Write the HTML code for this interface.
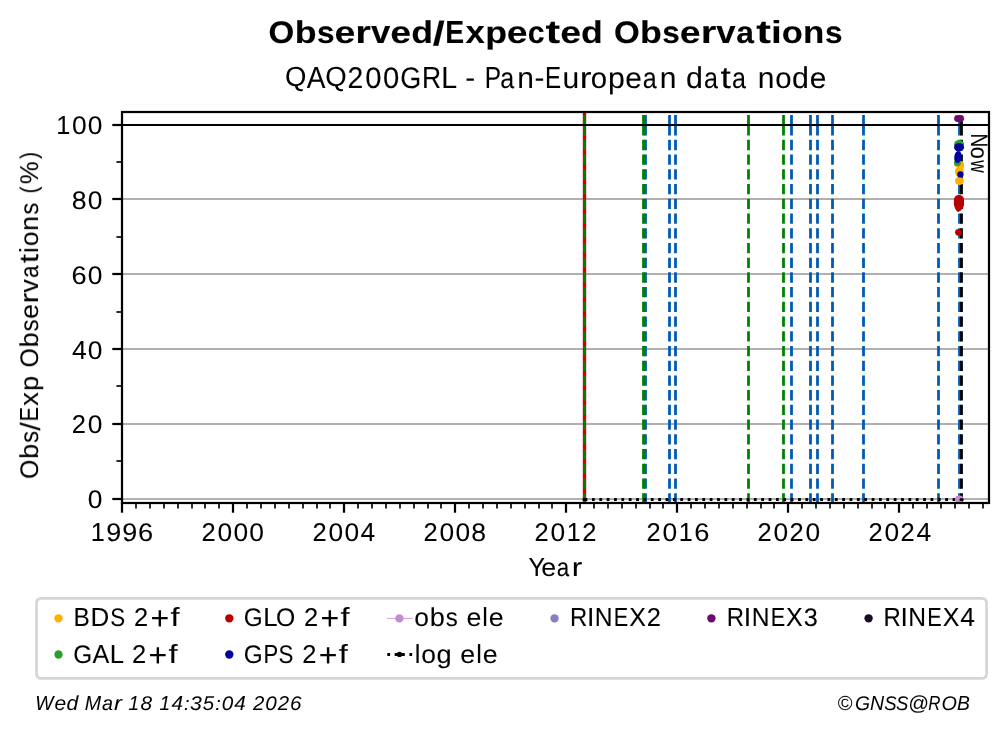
<!DOCTYPE html>
<html><head><meta charset="utf-8"><title>Observed/Expected Observations</title>
<style>html,body{margin:0;padding:0;background:#fff;}body{width:1008px;height:734px;overflow:hidden;font-family:"Liberation Sans",sans-serif;}svg{display:block;}text{font-family:"Liberation Sans",sans-serif;fill:#000;}.ns{vector-effect:non-scaling-stroke;}</style></head><body>
<svg width="1008" height="734" viewBox="0 0 1008 734">
<rect x="0" y="0" width="1008" height="734" fill="#ffffff"/>
<defs><clipPath id="ax"><rect x="122.00" y="112.00" width="867.00" height="391.00"/></clipPath></defs>
<g stroke="#b0b0b0" stroke-width="2.2" clip-path="url(#ax)">
<line x1="122.00" x2="989.00" y1="499.00" y2="499.00"/>
<line x1="122.00" x2="989.00" y1="424.00" y2="424.00"/>
<line x1="122.00" x2="989.00" y1="349.00" y2="349.00"/>
<line x1="122.00" x2="989.00" y1="274.00" y2="274.00"/>
<line x1="122.00" x2="989.00" y1="199.00" y2="199.00"/>
<line x1="122.00" x2="989.00" y1="125.00" y2="125.00"/>
</g>
<g clip-path="url(#ax)">
<line x1="645.50" x2="645.50" y1="115.00" y2="125.20" stroke="#005ab5" stroke-width="2.78"/>
<line x1="645.50" x2="645.50" y1="125.15" y2="505.00" stroke="#005ab5" stroke-width="2.78" stroke-dasharray="10.28 4.44"/>
<line x1="669.50" x2="669.50" y1="115.00" y2="125.20" stroke="#005ab5" stroke-width="2.78"/>
<line x1="669.50" x2="669.50" y1="125.15" y2="505.00" stroke="#005ab5" stroke-width="2.78" stroke-dasharray="10.28 4.44"/>
<line x1="675.50" x2="675.50" y1="115.00" y2="125.20" stroke="#005ab5" stroke-width="2.78"/>
<line x1="675.50" x2="675.50" y1="125.15" y2="505.00" stroke="#005ab5" stroke-width="2.78" stroke-dasharray="10.28 4.44"/>
<line x1="791.50" x2="791.50" y1="115.00" y2="125.20" stroke="#005ab5" stroke-width="2.78"/>
<line x1="791.50" x2="791.50" y1="125.15" y2="505.00" stroke="#005ab5" stroke-width="2.78" stroke-dasharray="10.28 4.44"/>
<line x1="810.50" x2="810.50" y1="115.00" y2="125.20" stroke="#005ab5" stroke-width="2.78"/>
<line x1="810.50" x2="810.50" y1="125.15" y2="505.00" stroke="#005ab5" stroke-width="2.78" stroke-dasharray="10.28 4.44"/>
<line x1="817.50" x2="817.50" y1="115.00" y2="125.20" stroke="#005ab5" stroke-width="2.78"/>
<line x1="817.50" x2="817.50" y1="125.15" y2="505.00" stroke="#005ab5" stroke-width="2.78" stroke-dasharray="10.28 4.44"/>
<line x1="832.50" x2="832.50" y1="115.00" y2="125.20" stroke="#005ab5" stroke-width="2.78"/>
<line x1="832.50" x2="832.50" y1="125.15" y2="505.00" stroke="#005ab5" stroke-width="2.78" stroke-dasharray="10.28 4.44"/>
<line x1="863.50" x2="863.50" y1="115.00" y2="125.20" stroke="#005ab5" stroke-width="2.78"/>
<line x1="863.50" x2="863.50" y1="125.15" y2="505.00" stroke="#005ab5" stroke-width="2.78" stroke-dasharray="10.28 4.44"/>
<line x1="938.50" x2="938.50" y1="115.00" y2="125.20" stroke="#005ab5" stroke-width="2.78"/>
<line x1="938.50" x2="938.50" y1="125.15" y2="505.00" stroke="#005ab5" stroke-width="2.78" stroke-dasharray="10.28 4.44"/>
<line x1="959.50" x2="959.50" y1="117.50" y2="125.20" stroke="#005ab5" stroke-width="2.78"/>
<line x1="959.50" x2="959.50" y1="125.15" y2="505.00" stroke="#005ab5" stroke-width="2.78" stroke-dasharray="10.28 4.44"/>
<line x1="584.5" x2="584.5" y1="112.00" y2="503.00" stroke="#cc0000" stroke-width="3.40"/>
<line x1="584.50" x2="584.50" y1="115.00" y2="125.20" stroke="#008000" stroke-width="2.78"/>
<line x1="584.50" x2="584.50" y1="125.15" y2="505.00" stroke="#008000" stroke-width="2.78" stroke-dasharray="10.28 4.44"/>
<line x1="643.50" x2="643.50" y1="115.00" y2="125.20" stroke="#008000" stroke-width="2.78"/>
<line x1="643.50" x2="643.50" y1="125.15" y2="505.00" stroke="#008000" stroke-width="2.78" stroke-dasharray="10.28 4.44"/>
<line x1="748.50" x2="748.50" y1="115.00" y2="125.20" stroke="#008000" stroke-width="2.78"/>
<line x1="748.50" x2="748.50" y1="125.15" y2="505.00" stroke="#008000" stroke-width="2.78" stroke-dasharray="10.28 4.44"/>
<line x1="783.50" x2="783.50" y1="115.00" y2="125.20" stroke="#008000" stroke-width="2.78"/>
<line x1="783.50" x2="783.50" y1="125.15" y2="505.00" stroke="#008000" stroke-width="2.78" stroke-dasharray="10.28 4.44"/>
<line x1="961.50" x2="961.50" y1="117.50" y2="125.20" stroke="#000000" stroke-width="2.78"/>
<line x1="961.50" x2="961.50" y1="125.15" y2="505.00" stroke="#000000" stroke-width="2.78" stroke-dasharray="10.28 4.44"/>
</g>
<line x1="122.00" x2="989.00" y1="125.00" y2="125.00" stroke="#000" stroke-width="2.2"/>
<g clip-path="url(#ax)">
<line x1="584.6" x2="961.6" y1="499.50" y2="499.50" stroke="#000" stroke-width="2.78" stroke-dasharray="2.78 4.58"/>
<ellipse cx="584.6" cy="499.50" rx="2.25" ry="1.6" fill="#000"/>
<ellipse cx="959.2" cy="499.00" rx="4.3" ry="3.6" fill="#c58bcf"/>
<ellipse cx="961.6" cy="499.50" rx="2.25" ry="1.6" fill="#000"/>
</g>
<g>
<rect x="954.1" y="114.95" width="9.95" height="6.95" rx="3.6" ry="3.47" fill="#6a0d6e"/>
<ellipse cx="957.5" cy="163.6" rx="3.5" ry="3.4" fill="#ffb000"/>
<ellipse cx="960.85" cy="165.2" rx="3.2" ry="4.3" fill="#ffb000"/>
<ellipse cx="959.4" cy="171.6" rx="4.4" ry="5.6" fill="#ffb000"/>
<ellipse cx="959.4" cy="180.9" rx="4.4" ry="4.1" fill="#ffb000"/>
<ellipse cx="959.05" cy="144.45" rx="5.0" ry="4.4" fill="#2ca02c"/>
<ellipse cx="957.45" cy="162.7" rx="3.45" ry="3.5" fill="#2ca02c"/>
<path d="M953.9,200 A5.07,5.2 0 0 1 964.05,200 L964.05,204.5 C964.05,207 962,210.3 958.4,212.1 C956.4,211.5 954.5,208 953.9,204.5 Z" fill="#b90000"/>
<circle cx="958.45" cy="232.3" r="3.35" fill="#b90000"/>
<ellipse cx="959.05" cy="147.3" rx="5.0" ry="4.3" fill="#00009c"/>
<ellipse cx="957.95" cy="157.0" rx="3.7" ry="6.1" fill="#00009c" transform="rotate(8 957.95 157)"/>
<circle cx="960.4" cy="174.4" r="3.15" fill="#00009c"/>
</g>
<rect x="122.00" y="112.00" width="867.00" height="391.00" fill="none" stroke="#000" stroke-width="2.22"/>
<g stroke="#000" stroke-width="2.22">
<line x1="112.28" x2="122.00" y1="499.00" y2="499.00"/>
<line x1="112.28" x2="122.00" y1="424.00" y2="424.00"/>
<line x1="112.28" x2="122.00" y1="349.00" y2="349.00"/>
<line x1="112.28" x2="122.00" y1="274.00" y2="274.00"/>
<line x1="112.28" x2="122.00" y1="199.00" y2="199.00"/>
<line x1="112.28" x2="122.00" y1="125.00" y2="125.00"/>
</g><g stroke="#000" stroke-width="1.67">
<line x1="116.44" x2="122.00" y1="461.00" y2="461.00"/>
<line x1="116.44" x2="122.00" y1="386.00" y2="386.00"/>
<line x1="116.44" x2="122.00" y1="312.00" y2="312.00"/>
<line x1="116.44" x2="122.00" y1="237.00" y2="237.00"/>
<line x1="116.44" x2="122.00" y1="162.00" y2="162.00"/>
</g><g stroke="#000" stroke-width="2.22">
<line x1="122.00" x2="122.00" y1="503.00" y2="512.72"/>
<line x1="233.00" x2="233.00" y1="503.00" y2="512.72"/>
<line x1="344.00" x2="344.00" y1="503.00" y2="512.72"/>
<line x1="455.00" x2="455.00" y1="503.00" y2="512.72"/>
<line x1="566.00" x2="566.00" y1="503.00" y2="512.72"/>
<line x1="677.00" x2="677.00" y1="503.00" y2="512.72"/>
<line x1="788.00" x2="788.00" y1="503.00" y2="512.72"/>
<line x1="899.00" x2="899.00" y1="503.00" y2="512.72"/>
</g><g stroke="#000" stroke-width="1.67">
<line x1="136.00" x2="136.00" y1="503.00" y2="508.56"/>
<line x1="150.00" x2="150.00" y1="503.00" y2="508.56"/>
<line x1="164.00" x2="164.00" y1="503.00" y2="508.56"/>
<line x1="178.00" x2="178.00" y1="503.00" y2="508.56"/>
<line x1="192.00" x2="192.00" y1="503.00" y2="508.56"/>
<line x1="205.00" x2="205.00" y1="503.00" y2="508.56"/>
<line x1="219.00" x2="219.00" y1="503.00" y2="508.56"/>
<line x1="247.00" x2="247.00" y1="503.00" y2="508.56"/>
<line x1="261.00" x2="261.00" y1="503.00" y2="508.56"/>
<line x1="275.00" x2="275.00" y1="503.00" y2="508.56"/>
<line x1="289.00" x2="289.00" y1="503.00" y2="508.56"/>
<line x1="303.00" x2="303.00" y1="503.00" y2="508.56"/>
<line x1="317.00" x2="317.00" y1="503.00" y2="508.56"/>
<line x1="330.00" x2="330.00" y1="503.00" y2="508.56"/>
<line x1="358.00" x2="358.00" y1="503.00" y2="508.56"/>
<line x1="372.00" x2="372.00" y1="503.00" y2="508.56"/>
<line x1="386.00" x2="386.00" y1="503.00" y2="508.56"/>
<line x1="400.00" x2="400.00" y1="503.00" y2="508.56"/>
<line x1="414.00" x2="414.00" y1="503.00" y2="508.56"/>
<line x1="428.00" x2="428.00" y1="503.00" y2="508.56"/>
<line x1="441.00" x2="441.00" y1="503.00" y2="508.56"/>
<line x1="469.00" x2="469.00" y1="503.00" y2="508.56"/>
<line x1="483.00" x2="483.00" y1="503.00" y2="508.56"/>
<line x1="497.00" x2="497.00" y1="503.00" y2="508.56"/>
<line x1="511.00" x2="511.00" y1="503.00" y2="508.56"/>
<line x1="525.00" x2="525.00" y1="503.00" y2="508.56"/>
<line x1="539.00" x2="539.00" y1="503.00" y2="508.56"/>
<line x1="552.00" x2="552.00" y1="503.00" y2="508.56"/>
<line x1="580.00" x2="580.00" y1="503.00" y2="508.56"/>
<line x1="594.00" x2="594.00" y1="503.00" y2="508.56"/>
<line x1="608.00" x2="608.00" y1="503.00" y2="508.56"/>
<line x1="622.00" x2="622.00" y1="503.00" y2="508.56"/>
<line x1="636.00" x2="636.00" y1="503.00" y2="508.56"/>
<line x1="650.00" x2="650.00" y1="503.00" y2="508.56"/>
<line x1="663.00" x2="663.00" y1="503.00" y2="508.56"/>
<line x1="691.00" x2="691.00" y1="503.00" y2="508.56"/>
<line x1="705.00" x2="705.00" y1="503.00" y2="508.56"/>
<line x1="719.00" x2="719.00" y1="503.00" y2="508.56"/>
<line x1="733.00" x2="733.00" y1="503.00" y2="508.56"/>
<line x1="747.00" x2="747.00" y1="503.00" y2="508.56"/>
<line x1="761.00" x2="761.00" y1="503.00" y2="508.56"/>
<line x1="774.00" x2="774.00" y1="503.00" y2="508.56"/>
<line x1="802.00" x2="802.00" y1="503.00" y2="508.56"/>
<line x1="816.00" x2="816.00" y1="503.00" y2="508.56"/>
<line x1="830.00" x2="830.00" y1="503.00" y2="508.56"/>
<line x1="844.00" x2="844.00" y1="503.00" y2="508.56"/>
<line x1="858.00" x2="858.00" y1="503.00" y2="508.56"/>
<line x1="872.00" x2="872.00" y1="503.00" y2="508.56"/>
<line x1="885.00" x2="885.00" y1="503.00" y2="508.56"/>
<line x1="913.00" x2="913.00" y1="503.00" y2="508.56"/>
<line x1="927.00" x2="927.00" y1="503.00" y2="508.56"/>
<line x1="941.00" x2="941.00" y1="503.00" y2="508.56"/>
<line x1="955.00" x2="955.00" y1="503.00" y2="508.56"/>
<line x1="969.00" x2="969.00" y1="503.00" y2="508.56"/>
<line x1="983.00" x2="983.00" y1="503.00" y2="508.56"/>
</g>
<path d="M41.50,598.40 L981.60,598.40 Q986.60,598.40 986.60,603.40 L986.60,673.40 Q986.60,678.40 981.60,678.40 L41.50,678.40 Q36.50,678.40 36.50,673.40 L36.50,603.40 Q36.50,598.40 41.50,598.40 Z" fill="#fff" stroke="#d6d6d6" stroke-width="2.78"/>
<g opacity="0.999" font-size="100" text-rendering="geometricPrecision">
<g font-weight="bold" stroke="#000" stroke-width="0.35">
<text class="ns" transform="translate(268.59 42.69) scale(0.3311 0.3107)">O</text>
<text class="ns" transform="translate(294.66 42.69) scale(0.3573 0.3129)">b</text>
<text class="ns" transform="translate(316.88 42.69) scale(0.3163 0.3097)">s</text>
<text class="ns" transform="translate(334.51 42.69) scale(0.3736 0.3102)">e</text>
<text class="ns" transform="translate(355.36 43.00) scale(0.4016 0.3154)">r</text>
<text class="ns" transform="translate(370.91 43.00) scale(0.3476 0.3220)">v</text>
<text class="ns" transform="translate(390.34 42.69) scale(0.3736 0.3102)">e</text>
<text class="ns" transform="translate(411.21 42.69) scale(0.3568 0.3129)">d</text>
<text class="ns" transform="translate(432.78 45.33) scale(0.4311 0.3356)">/</text>
<text class="ns" transform="translate(445.26 43.00) scale(0.2830 0.3198)">E</text>
<text class="ns" transform="translate(465.50 43.00) scale(0.3474 0.3220)">x</text>
<text class="ns" transform="translate(485.17 42.60) scale(0.3573 0.3075)">p</text>
<text class="ns" transform="translate(506.66 42.69) scale(0.3736 0.3102)">e</text>
<text class="ns" transform="translate(527.68 42.69) scale(0.3041 0.3102)">c</text>
<text class="ns" transform="translate(545.57 42.71) scale(0.4395 0.3253)">t</text>
<text class="ns" transform="translate(560.23 42.69) scale(0.3736 0.3102)">e</text>
<text class="ns" transform="translate(581.10 42.69) scale(0.3568 0.3129)">d</text>
<text class="ns" transform="translate(613.90 42.69) scale(0.3311 0.3107)">O</text>
<text class="ns" transform="translate(639.97 42.69) scale(0.3573 0.3129)">b</text>
<text class="ns" transform="translate(662.18 42.69) scale(0.3163 0.3097)">s</text>
<text class="ns" transform="translate(679.82 42.69) scale(0.3736 0.3102)">e</text>
<text class="ns" transform="translate(700.67 43.00) scale(0.4016 0.3154)">r</text>
<text class="ns" transform="translate(716.22 43.00) scale(0.3476 0.3220)">v</text>
<text class="ns" transform="translate(736.19 42.69) scale(0.3179 0.3102)">a</text>
<text class="ns" transform="translate(756.32 42.71) scale(0.4395 0.3253)">t</text>
<text class="ns" transform="translate(771.02 43.00) scale(0.3890 0.3172)">i</text>
<text class="ns" transform="translate(781.66 42.69) scale(0.3456 0.3102)">o</text>
<text class="ns" transform="translate(803.00 43.00) scale(0.3482 0.3154)">n</text>
<text class="ns" transform="translate(825.03 42.69) scale(0.3163 0.3097)">s</text>
</g>
<g stroke="#000" stroke-width="0.28">
<text class="ns" transform="translate(284.89 86.28) scale(0.2751 0.2762)">Q</text>
<text class="ns" transform="translate(306.64 88.00) scale(0.2801 0.3052)">A</text>
<text class="ns" transform="translate(325.22 86.28) scale(0.2751 0.2762)">Q</text>
<text class="ns" transform="translate(347.40 88.00) scale(0.2829 0.3009)">2</text>
<text class="ns" transform="translate(365.21 87.70) scale(0.2929 0.2966)">0</text>
<text class="ns" transform="translate(382.99 87.70) scale(0.2929 0.2966)">0</text>
<text class="ns" transform="translate(400.19 87.70) scale(0.2700 0.2966)">G</text>
<text class="ns" transform="translate(422.04 88.00) scale(0.2649 0.3052)">R</text>
<text class="ns" transform="translate(441.16 88.00) scale(0.2854 0.3052)">L</text>
<text class="ns" transform="translate(465.24 87.21) scale(0.2965 0.2749)">-</text>
<text class="ns" transform="translate(484.83 88.00) scale(0.2444 0.3052)">P</text>
<text class="ns" transform="translate(500.19 87.71) scale(0.2505 0.2920)">a</text>
<text class="ns" transform="translate(517.17 88.00) scale(0.2999 0.2974)">n</text>
<text class="ns" transform="translate(534.38 87.21) scale(0.2965 0.2749)">-</text>
<text class="ns" transform="translate(545.11 88.00) scale(0.2410 0.3052)">E</text>
<text class="ns" transform="translate(562.45 87.70) scale(0.2999 0.2974)">u</text>
<text class="ns" transform="translate(579.81 88.00) scale(0.3543 0.2974)">r</text>
<text class="ns" transform="translate(590.81 87.71) scale(0.2939 0.2920)">o</text>
<text class="ns" transform="translate(608.02 87.87) scale(0.3027 0.2949)">p</text>
<text class="ns" transform="translate(625.36 87.71) scale(0.2985 0.2920)">e</text>
<text class="ns" transform="translate(642.72 87.71) scale(0.2505 0.2920)">a</text>
<text class="ns" transform="translate(659.71 88.00) scale(0.2999 0.2974)">n</text>
<text class="ns" transform="translate(685.96 87.70) scale(0.3034 0.2993)">d</text>
<text class="ns" transform="translate(703.97 87.71) scale(0.2505 0.2920)">a</text>
<text class="ns" transform="translate(720.62 87.76) scale(0.3718 0.3058)">t</text>
<text class="ns" transform="translate(731.90 87.71) scale(0.2505 0.2920)">a</text>
<text class="ns" transform="translate(757.78 88.00) scale(0.2999 0.2974)">n</text>
<text class="ns" transform="translate(775.18 87.71) scale(0.2939 0.2920)">o</text>
<text class="ns" transform="translate(792.05 87.70) scale(0.3034 0.2993)">d</text>
<text class="ns" transform="translate(809.73 87.71) scale(0.2985 0.2920)">e</text>
</g>
<g stroke="#000" stroke-width="0.28">
<text class="ns" transform="translate(528.44 576.00) scale(0.2473 0.2616)">Y</text>
<text class="ns" transform="translate(541.18 575.74) scale(0.2686 0.2555)">e</text>
<text class="ns" transform="translate(556.87 575.74) scale(0.2233 0.2555)">a</text>
<text class="ns" transform="translate(571.71 576.00) scale(0.3187 0.2602)">r</text>
</g>
<g stroke="#000" stroke-width="0.28" transform="translate(38.00 479.20) rotate(-90)">
<text class="ns" transform="translate(0.21 -0.25) scale(0.2471 0.2542)">O</text>
<text class="ns" transform="translate(20.14 -0.26) scale(0.2716 0.2585)">b</text>
<text class="ns" transform="translate(36.23 -0.26) scale(0.2403 0.2559)">s</text>
<text class="ns" transform="translate(48.62 2.22) scale(0.3029 0.2789)">/</text>
<text class="ns" transform="translate(57.73 0.00) scale(0.2164 0.2616)">E</text>
<text class="ns" transform="translate(73.29 0.00) scale(0.2769 0.2652)">x</text>
<text class="ns" transform="translate(88.14 -0.30) scale(0.2716 0.2547)">p</text>
<text class="ns" transform="translate(111.71 -0.25) scale(0.2471 0.2542)">O</text>
<text class="ns" transform="translate(131.64 -0.26) scale(0.2716 0.2585)">b</text>
<text class="ns" transform="translate(147.73 -0.26) scale(0.2403 0.2559)">s</text>
<text class="ns" transform="translate(160.37 -0.26) scale(0.2686 0.2555)">e</text>
<text class="ns" transform="translate(175.65 0.00) scale(0.3187 0.2602)">r</text>
<text class="ns" transform="translate(186.54 0.00) scale(0.2692 0.2652)">v</text>
<text class="ns" transform="translate(201.19 -0.26) scale(0.2233 0.2555)">a</text>
<text class="ns" transform="translate(216.00 -0.21) scale(0.3320 0.2676)">t</text>
<text class="ns" transform="translate(226.33 0.00) scale(0.2528 0.2621)">i</text>
<text class="ns" transform="translate(232.89 -0.26) scale(0.2643 0.2555)">o</text>
<text class="ns" transform="translate(248.34 0.00) scale(0.2700 0.2602)">n</text>
<text class="ns" transform="translate(264.48 -0.26) scale(0.2403 0.2559)">s</text>
<text class="ns" transform="translate(285.70 -1.50) scale(0.2103 0.2414)">(</text>
<text class="ns" transform="translate(295.10 -0.15) scale(0.2564 0.2571)">%</text>
<text class="ns" transform="translate(320.30 -1.50) scale(0.2103 0.2414)">)</text>
</g>
<g font-style="italic" stroke="#000" stroke-width="0.18">
<text class="ns" transform="translate(35.22 710.00) scale(0.1923 0.2035)">W</text>
<text class="ns" transform="translate(54.45 709.80) scale(0.2102 0.2007)">e</text>
<text class="ns" transform="translate(66.45 709.80) scale(0.2105 0.2041)">d</text>
<text class="ns" transform="translate(84.82 710.00) scale(0.1963 0.2035)">M</text>
<text class="ns" transform="translate(102.11 709.80) scale(0.1975 0.2007)">a</text>
<text class="ns" transform="translate(114.06 710.00) scale(0.2377 0.2045)">r</text>
<text class="ns" transform="translate(128.48 710.00) scale(0.1902 0.2035)">1</text>
<text class="ns" transform="translate(140.49 709.80) scale(0.2077 0.1977)">8</text>
<text class="ns" transform="translate(159.48 710.00) scale(0.1902 0.2035)">1</text>
<text class="ns" transform="translate(171.61 710.00) scale(0.2077 0.2035)">4</text>
<text class="ns" transform="translate(183.99 710.00) scale(0.1994 0.1894)">:</text>
<text class="ns" transform="translate(189.94 709.80) scale(0.2116 0.1977)">3</text>
<text class="ns" transform="translate(202.69 709.80) scale(0.2037 0.2006)">5</text>
<text class="ns" transform="translate(215.36 710.00) scale(0.1994 0.1894)">:</text>
<text class="ns" transform="translate(221.83 709.80) scale(0.2070 0.1977)">0</text>
<text class="ns" transform="translate(234.36 710.00) scale(0.2077 0.2035)">4</text>
<text class="ns" transform="translate(252.95 710.00) scale(0.2030 0.2006)">2</text>
<text class="ns" transform="translate(265.20 709.80) scale(0.2070 0.1977)">0</text>
<text class="ns" transform="translate(277.70 710.00) scale(0.2030 0.2006)">2</text>
<text class="ns" transform="translate(289.96 709.80) scale(0.2058 0.1977)">6</text>
</g>
<g font-style="italic" stroke="#000" stroke-width="0.18">
<text class="ns" transform="translate(837.60 709.84) scale(0.1996 0.2054)">©</text>
<text class="ns" transform="translate(854.93 709.80) scale(0.1934 0.1977)">G</text>
<text class="ns" transform="translate(870.07 710.00) scale(0.1953 0.2035)">N</text>
<text class="ns" transform="translate(884.34 709.80) scale(0.1853 0.1977)">S</text>
<text class="ns" transform="translate(895.97 709.80) scale(0.1853 0.1977)">S</text>
<text class="ns" transform="translate(907.97 710.20) scale(0.2044 0.2028)">@</text>
<text class="ns" transform="translate(928.27 710.00) scale(0.1688 0.2035)">R</text>
<text class="ns" transform="translate(941.46 709.80) scale(0.1980 0.1977)">O</text>
<text class="ns" transform="translate(957.08 710.00) scale(0.1933 0.2035)">B</text>
</g>
<g stroke="#000" stroke-width="0.28">
<text class="ns" transform="translate(73.50 626.00) scale(0.2439 0.2616)">B</text>
<text class="ns" transform="translate(90.62 626.00) scale(0.2593 0.2616)">D</text>
<text class="ns" transform="translate(110.25 625.75) scale(0.2231 0.2542)">S</text>
<text class="ns" transform="translate(134.10 626.00) scale(0.2549 0.2579)">2</text>
<text class="ns" transform="translate(150.58 628.84) scale(0.3208 0.3265)">+</text>
<text class="ns" transform="translate(170.54 626.00) scale(0.3266 0.2624)">f</text>
</g>
<g stroke="#000" stroke-width="0.28">
<text class="ns" transform="translate(73.16 662.75) scale(0.2427 0.2542)">G</text>
<text class="ns" transform="translate(92.40 663.00) scale(0.2517 0.2616)">A</text>
<text class="ns" transform="translate(109.77 663.00) scale(0.2565 0.2616)">L</text>
<text class="ns" transform="translate(131.98 663.00) scale(0.2549 0.2579)">2</text>
<text class="ns" transform="translate(148.46 665.84) scale(0.3208 0.3265)">+</text>
<text class="ns" transform="translate(168.42 663.00) scale(0.3266 0.2624)">f</text>
</g>
<g stroke="#000" stroke-width="0.28">
<text class="ns" transform="translate(243.66 625.75) scale(0.2427 0.2542)">G</text>
<text class="ns" transform="translate(263.15 626.00) scale(0.2565 0.2616)">L</text>
<text class="ns" transform="translate(276.09 625.75) scale(0.2471 0.2542)">O</text>
<text class="ns" transform="translate(304.10 626.00) scale(0.2549 0.2579)">2</text>
<text class="ns" transform="translate(320.58 628.84) scale(0.3208 0.3265)">+</text>
<text class="ns" transform="translate(340.54 626.00) scale(0.3266 0.2624)">f</text>
</g>
<g stroke="#000" stroke-width="0.28">
<text class="ns" transform="translate(243.66 662.75) scale(0.2427 0.2542)">G</text>
<text class="ns" transform="translate(263.44 663.00) scale(0.2205 0.2616)">P</text>
<text class="ns" transform="translate(278.50 662.75) scale(0.2231 0.2542)">S</text>
<text class="ns" transform="translate(302.35 663.00) scale(0.2549 0.2579)">2</text>
<text class="ns" transform="translate(318.83 665.84) scale(0.3208 0.3265)">+</text>
<text class="ns" transform="translate(338.79 663.00) scale(0.3266 0.2624)">f</text>
</g>
<g stroke="#000" stroke-width="0.28">
<text class="ns" transform="translate(414.27 625.74) scale(0.2643 0.2555)">o</text>
<text class="ns" transform="translate(429.76 625.74) scale(0.2716 0.2585)">b</text>
<text class="ns" transform="translate(445.85 625.74) scale(0.2403 0.2559)">s</text>
<text class="ns" transform="translate(466.50 625.74) scale(0.2686 0.2555)">e</text>
<text class="ns" transform="translate(482.31 626.00) scale(0.2528 0.2621)">l</text>
<text class="ns" transform="translate(488.87 625.74) scale(0.2686 0.2555)">e</text>
</g>
<g stroke="#000" stroke-width="0.28">
<text class="ns" transform="translate(414.68 663.00) scale(0.2528 0.2621)">l</text>
<text class="ns" transform="translate(421.27 662.74) scale(0.2643 0.2555)">o</text>
<text class="ns" transform="translate(436.48 662.70) scale(0.2722 0.2550)">g</text>
<text class="ns" transform="translate(460.37 662.74) scale(0.2686 0.2555)">e</text>
<text class="ns" transform="translate(476.18 663.00) scale(0.2528 0.2621)">l</text>
<text class="ns" transform="translate(482.75 662.74) scale(0.2686 0.2555)">e</text>
</g>
<g stroke="#000" stroke-width="0.28">
<text class="ns" transform="translate(570.04 626.00) scale(0.2388 0.2616)">R</text>
<text class="ns" transform="translate(586.93 626.00) scale(0.2660 0.2616)">I</text>
<text class="ns" transform="translate(594.86 626.00) scale(0.2460 0.2616)">N</text>
<text class="ns" transform="translate(613.85 626.00) scale(0.2164 0.2616)">E</text>
<text class="ns" transform="translate(629.20 626.00) scale(0.2499 0.2616)">X</text>
<text class="ns" transform="translate(646.73 626.00) scale(0.2549 0.2579)">2</text>
</g>
<g stroke="#000" stroke-width="0.28">
<text class="ns" transform="translate(726.84 626.00) scale(0.2388 0.2616)">R</text>
<text class="ns" transform="translate(743.73 626.00) scale(0.2660 0.2616)">I</text>
<text class="ns" transform="translate(751.66 626.00) scale(0.2460 0.2616)">N</text>
<text class="ns" transform="translate(770.65 626.00) scale(0.2164 0.2616)">E</text>
<text class="ns" transform="translate(786.00 626.00) scale(0.2499 0.2616)">X</text>
<text class="ns" transform="translate(803.84 625.75) scale(0.2526 0.2542)">3</text>
</g>
<g stroke="#000" stroke-width="0.28">
<text class="ns" transform="translate(883.54 626.00) scale(0.2388 0.2616)">R</text>
<text class="ns" transform="translate(900.43 626.00) scale(0.2660 0.2616)">I</text>
<text class="ns" transform="translate(908.36 626.00) scale(0.2460 0.2616)">N</text>
<text class="ns" transform="translate(927.35 626.00) scale(0.2164 0.2616)">E</text>
<text class="ns" transform="translate(942.70 626.00) scale(0.2499 0.2616)">X</text>
<text class="ns" transform="translate(960.30 626.00) scale(0.2636 0.2616)">4</text>
</g>
<g stroke="#000" stroke-width="0.28">
<text class="ns" transform="translate(87.82 507.75) scale(0.2636 0.2542)">0</text>
</g>
<g stroke="#000" stroke-width="0.28">
<text class="ns" transform="translate(71.83 433.00) scale(0.2549 0.2579)">2</text>
<text class="ns" transform="translate(87.82 432.75) scale(0.2636 0.2542)">0</text>
</g>
<g stroke="#000" stroke-width="0.28">
<text class="ns" transform="translate(71.90 359.00) scale(0.2636 0.2616)">4</text>
<text class="ns" transform="translate(87.82 358.75) scale(0.2636 0.2542)">0</text>
</g>
<g stroke="#000" stroke-width="0.28">
<text class="ns" transform="translate(71.61 283.75) scale(0.2727 0.2542)">6</text>
<text class="ns" transform="translate(87.82 283.75) scale(0.2636 0.2542)">0</text>
</g>
<g stroke="#000" stroke-width="0.28">
<text class="ns" transform="translate(71.83 208.75) scale(0.2660 0.2542)">8</text>
<text class="ns" transform="translate(87.82 208.75) scale(0.2636 0.2542)">0</text>
</g>
<g stroke="#000" stroke-width="0.28">
<text class="ns" transform="translate(56.31 134.00) scale(0.2517 0.2616)">1</text>
<text class="ns" transform="translate(71.95 133.75) scale(0.2636 0.2542)">0</text>
<text class="ns" transform="translate(87.82 133.75) scale(0.2636 0.2542)">0</text>
</g>
<g stroke="#000" stroke-width="0.28">
<text class="ns" transform="translate(90.84 541.00) scale(0.2517 0.2616)">1</text>
<text class="ns" transform="translate(106.26 540.75) scale(0.2700 0.2542)">9</text>
<text class="ns" transform="translate(122.13 540.75) scale(0.2700 0.2542)">9</text>
<text class="ns" transform="translate(138.01 540.75) scale(0.2727 0.2542)">6</text>
</g>
<g stroke="#000" stroke-width="0.28">
<text class="ns" transform="translate(201.60 541.00) scale(0.2549 0.2579)">2</text>
<text class="ns" transform="translate(217.60 540.75) scale(0.2636 0.2542)">0</text>
<text class="ns" transform="translate(233.47 540.75) scale(0.2636 0.2542)">0</text>
<text class="ns" transform="translate(249.35 540.75) scale(0.2636 0.2542)">0</text>
</g>
<g stroke="#000" stroke-width="0.28">
<text class="ns" transform="translate(312.60 541.00) scale(0.2549 0.2579)">2</text>
<text class="ns" transform="translate(328.60 540.75) scale(0.2636 0.2542)">0</text>
<text class="ns" transform="translate(344.47 540.75) scale(0.2636 0.2542)">0</text>
<text class="ns" transform="translate(360.42 541.00) scale(0.2636 0.2616)">4</text>
</g>
<g stroke="#000" stroke-width="0.28">
<text class="ns" transform="translate(423.60 541.00) scale(0.2549 0.2579)">2</text>
<text class="ns" transform="translate(439.60 540.75) scale(0.2636 0.2542)">0</text>
<text class="ns" transform="translate(455.47 540.75) scale(0.2636 0.2542)">0</text>
<text class="ns" transform="translate(471.36 540.75) scale(0.2660 0.2542)">8</text>
</g>
<g stroke="#000" stroke-width="0.28">
<text class="ns" transform="translate(534.60 541.00) scale(0.2549 0.2579)">2</text>
<text class="ns" transform="translate(550.60 540.75) scale(0.2636 0.2542)">0</text>
<text class="ns" transform="translate(566.71 541.00) scale(0.2517 0.2616)">1</text>
<text class="ns" transform="translate(582.35 541.00) scale(0.2549 0.2579)">2</text>
</g>
<g stroke="#000" stroke-width="0.28">
<text class="ns" transform="translate(646.60 541.00) scale(0.2549 0.2579)">2</text>
<text class="ns" transform="translate(662.60 540.75) scale(0.2636 0.2542)">0</text>
<text class="ns" transform="translate(678.71 541.00) scale(0.2517 0.2616)">1</text>
<text class="ns" transform="translate(694.14 540.75) scale(0.2727 0.2542)">6</text>
</g>
<g stroke="#000" stroke-width="0.28">
<text class="ns" transform="translate(757.60 541.00) scale(0.2549 0.2579)">2</text>
<text class="ns" transform="translate(773.60 540.75) scale(0.2636 0.2542)">0</text>
<text class="ns" transform="translate(789.48 541.00) scale(0.2549 0.2579)">2</text>
<text class="ns" transform="translate(805.47 540.75) scale(0.2636 0.2542)">0</text>
</g>
<g stroke="#000" stroke-width="0.28">
<text class="ns" transform="translate(868.60 541.00) scale(0.2549 0.2579)">2</text>
<text class="ns" transform="translate(884.60 540.75) scale(0.2636 0.2542)">0</text>
<text class="ns" transform="translate(900.48 541.00) scale(0.2549 0.2579)">2</text>
<text class="ns" transform="translate(916.55 541.00) scale(0.2636 0.2616)">4</text>
</g>
<g transform="translate(971.05 0) rotate(90)" stroke="#000" stroke-width="0.55" vector-effect="non-scaling-stroke" style="vector-effect:non-scaling-stroke">
<text style="vector-effect:non-scaling-stroke" transform="translate(133.59 0.00) scale(0.1905 0.2369)">N</text>
<text style="vector-effect:non-scaling-stroke" transform="translate(146.79 0.06) scale(0.2178 0.2354)">o</text>
<text style="vector-effect:non-scaling-stroke" transform="translate(160.13 0.00) scale(0.1719 0.2386)">w</text>
</g>
</g>
<circle cx="58.50" cy="618.30" r="4.17" fill="#ffb000"/>
<circle cx="58.50" cy="654.50" r="4.17" fill="#2ca02c"/>
<circle cx="229.30" cy="618.30" r="4.17" fill="#b90000"/>
<circle cx="229.30" cy="654.50" r="4.17" fill="#00009c"/>
<line x1="386.9" x2="413.0" y1="618.4" y2="618.4" stroke="#c58bcf" stroke-width="0.8"/>
<circle cx="399.40" cy="618.40" r="4.17" fill="#c18ccf"/>
<line x1="387.3" x2="412.4" y1="654.5" y2="654.5" stroke="#000" stroke-width="2.78" stroke-dasharray="2.78 4.58"/>
<circle cx="399.5" cy="654.45" r="2.6" fill="#000"/>
<circle cx="554.50" cy="618.30" r="4.17" fill="#8580c0"/>
<circle cx="711.40" cy="618.30" r="4.17" fill="#690a6e"/>
<circle cx="868.60" cy="618.30" r="4.17" fill="#1e0a28"/>
</svg></body></html>
